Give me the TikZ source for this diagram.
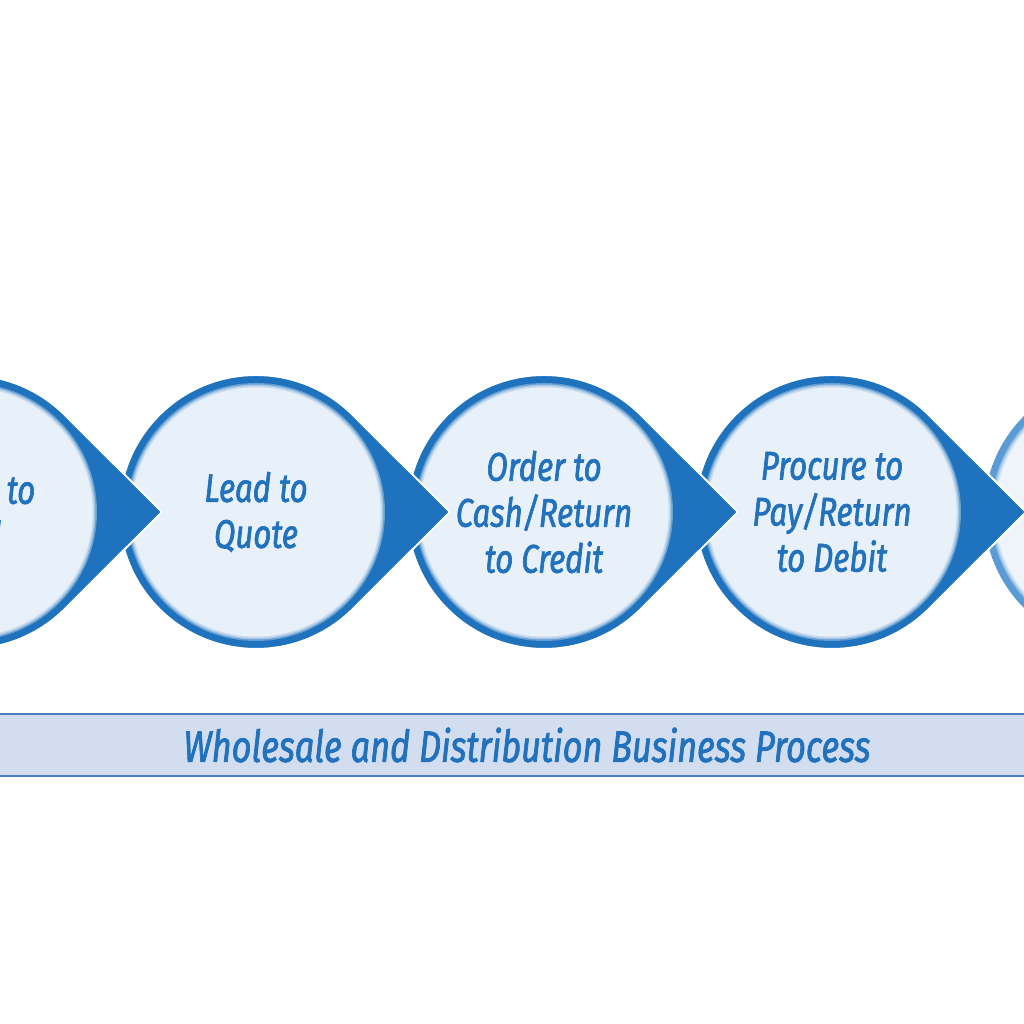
\documentclass[tikz,border=0pt]{standalone}
\usepackage{fontspec}
\setmainfont{Fira Sans}[FakeStretch=0.78, ItalicFeatures={FakeBold=1.6}]
\definecolor{ring}{HTML}{1F72BD}
\definecolor{inner}{HTML}{E8F1F9}
\definecolor{ringlt}{HTML}{5B9BD5}
\definecolor{innerlt}{HTML}{EEF4FA}
\definecolor{band}{HTML}{D2DEEF}
\definecolor{bandline}{HTML}{4A7EBB}
\definecolor{txt}{HTML}{2171BC}
\newcommand\procshape[4]{%
  \begin{scope}[shift={(#1,512)}]
    \fill[#2, draw=white, line width=2pt] (194,0) -- (96.8,97)
      arc[start angle=45.07, end angle=314.93, radius=137] -- cycle;
    \fill[#3!35!#2] (0,0) circle (129);
    \fill[#3!65!#2] (0,0) circle (127.5);
    \fill[#3!85!#2] (0,0) circle (126);
    \fill[#3] (0,0) circle (124.5);
    \coordinate (#4) at (0,0);
  \end{scope}}
\tikzset{
  lbl/.style={align=center, text=txt, inner sep=0pt,
    font=\fontsize{40}{46}\selectfont\itshape},
  banner/.style={draw=bandline, fill=band, line width=2pt,
    minimum width=1200pt, minimum height=62pt, text=txt,
    font=\fontsize{44}{50}\selectfont\itshape}
}
\begin{document}
\begin{tikzpicture}[x=1pt,y=1pt]
  \useasboundingbox (0,0) rectangle (1024,1024);
  \clip (0,0) rectangle (1024,1024);
  \fill[white] (0,0) rectangle (1024,1024);
  \procshape{1120}{ringlt}{innerlt}{c5}
  \procshape{832}{ring}{inner}{c4}
  \procshape{544}{ring}{inner}{c3}
  \procshape{256}{ring}{inner}{c2}
  \procshape{-32}{ring}{inner}{c1}
  \node[lbl] (t1) at (c1) {Market to\\Lead};
  \node[lbl] (t2) at (c2) {Lead to\\Quote};
  \node[lbl] (t3) at (c3) {Order to\\Cash/Return\\to Credit};
  \node[lbl] (t4) at (c4) {Procure to\\Pay/Return\\to Debit};
  \node[banner] (band) at (527,279) {Wholesale and Distribution Business Process};
\end{tikzpicture}
\end{document}
